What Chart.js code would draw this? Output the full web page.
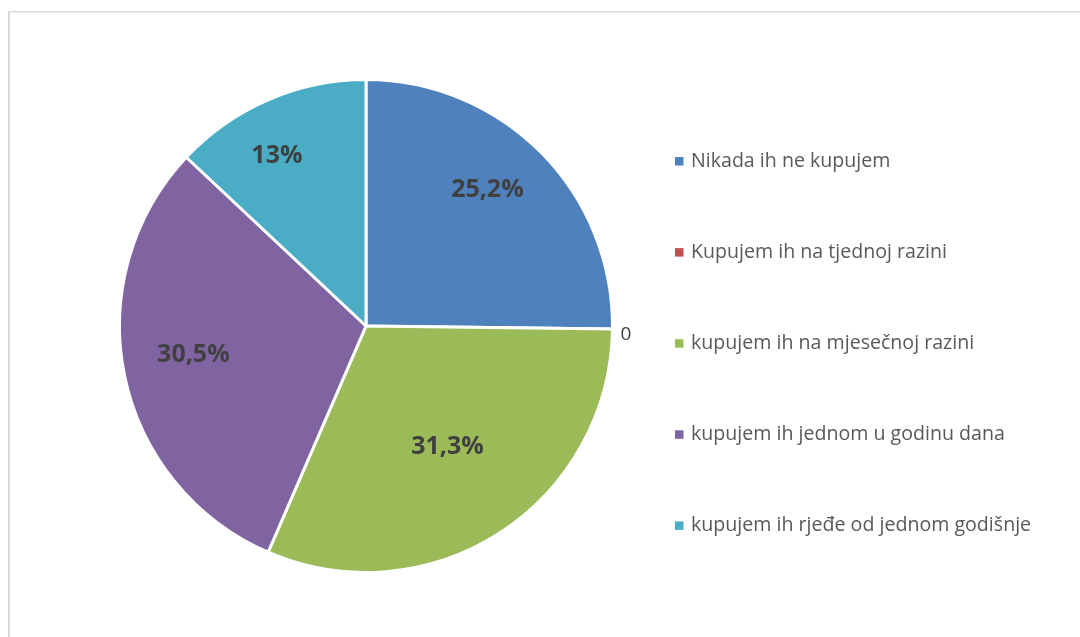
<!DOCTYPE html>
<html>
<head>
<meta charset="utf-8">
<script src="https://cdn.jsdelivr.net/npm/chart.js@4.4.1/dist/chart.umd.min.js"></script>
<style>
  html, body { margin: 0; padding: 0; background: #ffffff; }
  #wrap { width: 1080px; height: 637px; position: relative; }
</style>
</head>
<body>
<div id="wrap"><canvas id="c" width="1080" height="637"></canvas></div>
<script>
const categories = [
  'Nikada ih ne kupujem',
  'Kupujem ih na tjednoj razini',
  'kupujem ih na mjesečnoj razini',
  'kupujem ih jednom u godinu dana',
  'kupujem ih rjeđe od jednom godišnje'
];
const values = [25.2, 0, 31.3, 30.5, 13];
const valueLabels = ['25,2%', '0', '31,3%', '30,5%', '13%'];
const colors = ['#4F81BD', '#C0504D', '#9BBB59', '#8064A2', '#4BACC6'];

const framePlugin = {
  id: 'frame',
  beforeDraw(chart) {
    const ctx = chart.ctx;
    ctx.save();
    ctx.fillStyle = '#D9D9D9';
    ctx.fillRect(8, 11, 1072, 1.5);
    ctx.fillRect(8, 11, 2, 626);
    ctx.restore();
  }
};

const labelPlugin = {
  id: 'sliceLabels',
  afterDatasetsDraw(chart, args, opts) {
    const ctx = chart.ctx;
    const meta = chart.getDatasetMeta(0);
    ctx.save();
    meta.data.forEach((arc, i) => {
      const p = arc.getProps(['x', 'y', 'startAngle', 'endAngle', 'outerRadius'], true);
      const v = chart.data.datasets[0].data[i];
      if (v === 0) {
        const mid = (p.startAngle + p.endAngle) / 2;
        ctx.font = '19px "Open Sans", sans-serif';
        ctx.fillStyle = '#404040';
        ctx.textAlign = 'left';
        ctx.textBaseline = 'middle';
        const r = p.outerRadius + 8;
        ctx.fillText(valueLabels[i], p.x + Math.cos(mid) * r, p.y + Math.sin(mid) * r + 5);
      } else {
        const a = p.startAngle + (p.endAngle - p.startAngle) * opts.fractions[i];
        const r = p.outerRadius * opts.factors[i];
        ctx.font = 'bold 25px "Open Sans", sans-serif';
        ctx.fillStyle = '#404040';
        ctx.textAlign = 'center';
        ctx.textBaseline = 'middle';
        ctx.fillText(valueLabels[i], p.x + Math.cos(a) * r, p.y + Math.sin(a) * r);
      }
    });
    ctx.restore();
  }
};

const legendPlugin = {
  id: 'sideLegend',
  afterDraw(chart, args, opts) {
    const ctx = chart.ctx;
    ctx.save();
    ctx.font = opts.font;
    ctx.textAlign = 'left';
    ctx.textBaseline = 'middle';
    chart.data.labels.forEach((lab, i) => {
      const y = opts.y0 + i * opts.step;
      ctx.fillStyle = chart.data.datasets[0].backgroundColor[i];
      ctx.fillRect(opts.x, y - 4.5, 8.5, 8.5);
      ctx.fillStyle = '#595959';
      ctx.fillText(lab, opts.x + 16, y);
    });
    ctx.restore();
  }
};

new Chart(document.getElementById('c'), {
  type: 'pie',
  data: {
    labels: categories,
    datasets: [{
      data: values,
      backgroundColor: colors,
      borderColor: '#ffffff',
      borderWidth: 3
    }]
  },
  options: {
    responsive: false,
    animation: false,
    events: [],
    layout: { padding: { top: 78, bottom: 63, left: 118, right: 466 } },
    plugins: {
      legend: { display: false },
      tooltip: { enabled: false },
      sliceLabels: {
        factors: [0.74, 0, 0.59, 0.71, 0.78],
        fractions: [0.46, 0.5, 0.49, 0.52, 0.41]
      },
      sideLegend: { x: 675, y0: 161.5, step: 91.1, font: '19.6px "Open Sans", sans-serif' }
    }
  },
  plugins: [framePlugin, labelPlugin, legendPlugin]
});
</script>
</body>
</html>
